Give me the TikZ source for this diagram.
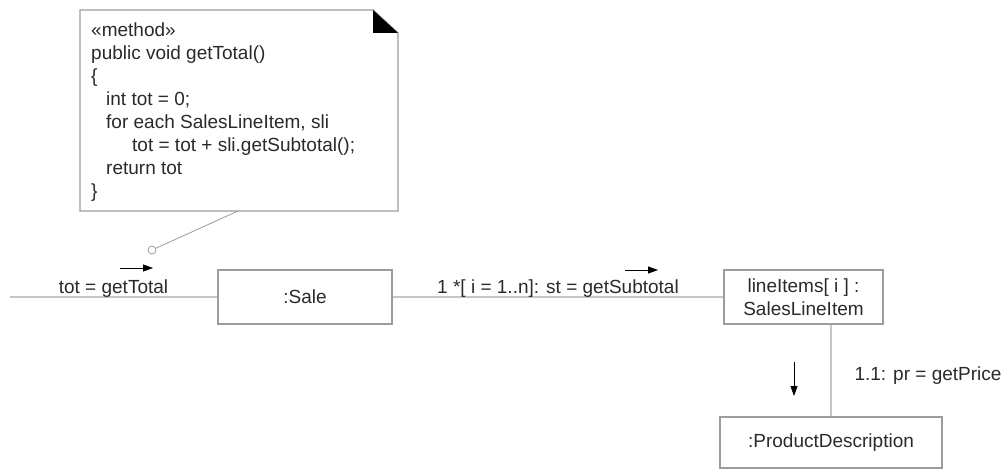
\documentclass[tikz,border=0pt]{standalone}
\usepackage{fontspec}
\setmainfont{Liberation Sans}
\usetikzlibrary{arrows.meta}
\definecolor{linkgray}{HTML}{C6C6C6}
\definecolor{boxgray}{HTML}{9C9C9C}
\definecolor{txt}{HTML}{2A2A2A}
\begin{document}
\begin{tikzpicture}[x=1pt,y=-1pt,
  obj/.style={draw=boxgray, line width=1.2pt, minimum height=54pt, inner sep=0pt,
    text=txt, font=\fontsize{19}{23}\selectfont, align=center},
  link/.style={draw=linkgray, line width=2.2pt},
  lbl/.style={text=txt, font=\fontsize{19}{23}\selectfont, inner sep=0pt},
  msg/.style={-{Triangle[length=10pt,width=7pt]}, line width=0.8pt, draw=black},
  notebox/.style={draw=boxgray, line width=1.4pt, fill=white},
  noteline/.style={draw=boxgray, line width=0.8pt}
]
\useasboundingbox (0,0) rectangle (1006,470);

% note
\draw[notebox] (80,10) -- (373,10) -- (398,33) -- (398,211) -- (80,211) -- cycle;
\fill[black] (373,10) -- (373,33) -- (398,33) -- cycle;
\node[lbl, anchor=north west, align=left] (notetext) at (91,23)
 {«method»\\
  public void getTotal()\\
  \{\\
  \hspace*{15pt}int tot = 0;\\
  \hspace*{15pt}for each SalesLineItem, sli\\
  \hspace*{41pt}tot = tot + sli.getSubtotal();\\
  \hspace*{15pt}return tot\\
  \}};
\node[circle, draw=boxgray, fill=white, line width=0.8pt, minimum size=8pt, inner sep=0pt] (attach) at (152,250) {};
\coordinate (notept) at (238,211);
\draw[noteline] (attach) -- (notept);

% objects
\node[obj, minimum width=174pt] (sale) at (305,297) {:Sale};
\node[obj, minimum width=159pt] (li) at (803.5,297) {lineItems[ i ] :\\SalesLineItem};
\node[obj, minimum width=222pt, minimum height=51pt] (pd) at (831,442.5) {:ProductDescription};

% links
\coordinate (start) at (10,297);
\draw[link] (start) -- (sale.west);
\draw[link] (sale.east) -- (li.west);
\draw[link] (pd.north) -- (pd.north |- li.south);

% labels
\node[lbl, anchor=base] (m1) at (113.5,293) {tot = getTotal};
\node[lbl, anchor=base] (m2) at (558,293) {1 *[ i = 1..n]: st = getSubtotal};
\node[lbl, anchor=base] (m3) at (928,380) {1.1: pr = getPrice};

% message arrows
\coordinate (a1s) at (120,268); \coordinate (a1e) at (153,268);
\coordinate (a2s) at (625,270); \coordinate (a2e) at (658,270);
\coordinate (a3s) at (794,362); \coordinate (a3e) at (794,396);
\draw[msg] (a1s) -- (a1e);
\draw[msg] (a2s) -- (a2e);
\draw[msg] (a3s) -- (a3e);
\end{tikzpicture}
\end{document}
